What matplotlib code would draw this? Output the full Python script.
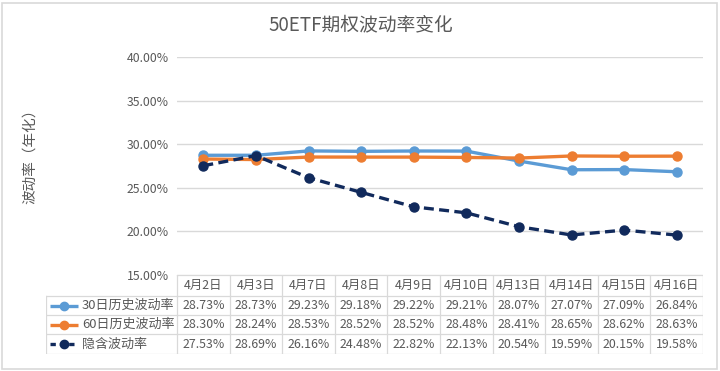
import matplotlib
matplotlib.use("Agg")
import matplotlib.pyplot as plt
from matplotlib.lines import Line2D
from matplotlib.patches import Rectangle

plt.rcParams['font.family'] = ['Noto Sans CJK SC', 'DejaVu Sans']

title = "50ETF期权波动率变化"
ylabel = "波动率（年化）"
dates = ["4月2日", "4月3日", "4月7日", "4月8日", "4月9日", "4月10日",
         "4月13日", "4月14日", "4月15日", "4月16日"]
hv30 = [28.73, 28.73, 29.23, 29.18, 29.22, 29.21, 28.07, 27.07, 27.09, 26.84]
hv60 = [28.30, 28.24, 28.53, 28.52, 28.52, 28.48, 28.41, 28.65, 28.62, 28.63]
iv = [27.53, 28.69, 26.16, 24.48, 22.82, 22.13, 20.54, 19.59, 20.15, 19.58]
series_names = ["30日历史波动率", "60日历史波动率", "隐含波动率"]
yticks = [15, 20, 25, 30, 35, 40]

colors = ["#5b9bd5", "#ed7d31", "#112a5c"]
styles = ["-", "-", (0, (3.0, 1.6))]
series = [hv30, hv60, iv]

W, H = 720, 371
fig = plt.figure(figsize=(W / 100, H / 100), dpi=100)

def px(x0, y0, x1, y1):
    return [x0 / W, 1 - y1 / H, (x1 - x0) / W, (y1 - y0) / H]

# outer border
fig.patches.append(Rectangle((2 / W, 2 / H), (W - 5) / W, (H - 5) / H,
                             transform=fig.transFigure, fill=False,
                             edgecolor="#d9d9d9", linewidth=1.2))

grey = "#595959"
gridc = "#d9d9d9"

ax = fig.add_axes(px(177, 57, 703, 275))
n = len(dates)
xs = list(range(n))
for vals, c, ls in zip(series, colors, styles):
    ax.plot(xs, vals, color=c, linestyle=ls, linewidth=2.4,
            marker="o", markersize=6.5, markeredgecolor=c, zorder=3)
ax.set_xlim(-0.5, n - 0.5)
ax.set_ylim(15, 40)
ax.set_yticks(yticks)
ax.set_yticklabels([f"{v:.2f}%" for v in yticks], color=grey, fontsize=8.8)
ax.tick_params(axis="y", length=0, pad=6)
ax.set_xticks([])
ax.grid(axis="y", color=gridc, linewidth=1)
for s in ["top", "right", "left", "bottom"]:
    ax.spines[s].set_visible(False)
ax.set_axisbelow(True)

fig.text(361 / W, 1 - 25 / H, title, ha="center", va="center",
         fontsize=13.5, color=grey)
fig.text(30 / W, 1 - 153 / H, ylabel, ha="center", va="center",
         rotation=90, fontsize=10.5, color=grey)

# table
colw = (703 - 177) / n
left_units = (177 - 46) / colw
tax = fig.add_axes(px(46, 275, 703, 354))
tax.set_xlim(-0.5 - left_units, n - 0.5)
row_edges = [0, 21, 40, 59, 79]
tax.set_ylim(79, 0)
tax.axis("off")
lw = 0.9
tax.plot([-0.5, n - 0.5], [0, 0], color=gridc, lw=lw)
for yv in row_edges[1:]:
    tax.plot([-0.5 - left_units, n - 0.5], [yv, yv], color=gridc, lw=lw)
for i in range(n + 1):
    tax.plot([i - 0.5, i - 0.5], [0, 79], color=gridc, lw=lw)
tax.plot([-0.5 - left_units] * 2, [21, 79], color=gridc, lw=lw)

fs = 8.9
for i, d in enumerate(dates):
    tax.text(i, 10.5, d, ha="center", va="center", fontsize=fs, color=grey)
for r, (vals, name, c, ls) in enumerate(zip(series, series_names, colors, styles)):
    yc = (row_edges[r + 1] + row_edges[r + 2]) / 2
    for i, v in enumerate(vals):
        tax.text(i, yc, f"{v:.2f}%", ha="center", va="center",
                 fontsize=fs, color=grey)
    x0 = -0.5 - left_units + 4 / colw
    x1 = x0 + 28 / colw
    lls = ls if ls == "-" else (0, (1.6, 1.2))
    tax.add_line(Line2D([x0, x1], [yc, yc], color=c, linestyle=lls, lw=2.4,
                        solid_capstyle="butt"))
    tax.plot([(x0 + x1) / 2], [yc], marker="o", markersize=6, color=c)
    tax.text(x1 + 4 / colw, yc, name, ha="left", va="center",
             fontsize=9.4, color=grey)

fig.savefig("out.png", dpi=100, facecolor="white")
